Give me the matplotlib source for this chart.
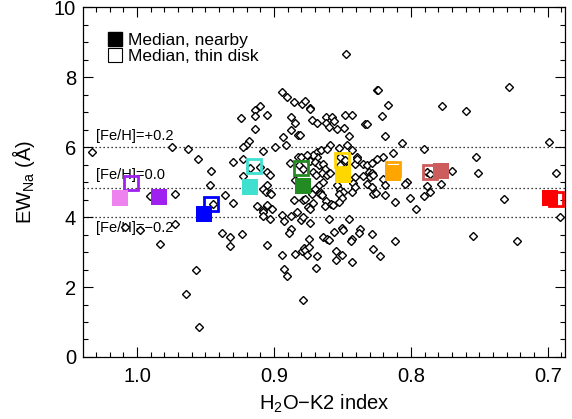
import numpy as np
import matplotlib
matplotlib.use('Agg')
import matplotlib.pyplot as plt
from matplotlib.lines import Line2D
from matplotlib.ticker import MultipleLocator, FormatStrFormatter

plt.rcParams['font.family'] = ['Liberation Sans', 'DejaVu Sans']
plt.rcParams['mathtext.fontset'] = 'custom'
plt.rcParams['mathtext.rm'] = 'Liberation Sans'
plt.rcParams['mathtext.it'] = 'Liberation Sans:italic'

# individual stars: H2O-K2 index vs Na equivalent width
h2o_k2 = [1.0329, 1.0085, 0.9981, 0.9908, 0.9835, 0.9745, 0.9720, 0.9720, 0.9642, 0.9628,
          0.9567, 0.9555, 0.9550, 0.9470, 0.9460, 0.9445, 0.9380, 0.9355, 0.9324, 0.9319,
          0.9295, 0.9295, 0.9234, 0.9241, 0.9137, 0.9100, 0.9137, 0.9051, 0.9137, 0.8942,
          0.8903, 0.8852, 0.8796, 0.8772, 0.8739, 0.8876, 0.8848, 0.8874, 0.8825, 0.8937,
          0.8910, 0.8990, 0.9080, 0.9185, 0.9202, 0.9222, 0.9222, 0.9178, 0.9100, 0.8825,
          0.8803, 0.8886, 0.8820, 0.8788, 0.9047, 0.9032, 0.9051, 0.9076, 0.9056, 0.9032,
          0.9222, 0.8845, 0.8808, 0.8784, 0.9022, 0.8735, 0.8723, 0.8686, 0.8618, 0.8578,
          0.8560, 0.8479, 0.8431, 0.8618, 0.8601, 0.8540, 0.8487, 0.8448, 0.8333, 0.8322,
          0.8808, 0.8589, 0.8521, 0.8467, 0.8431, 0.8394, 0.8682, 0.8657, 0.8686, 0.8711,
          0.8613, 0.8759, 0.8735, 0.8699, 0.8674, 0.8638, 0.8625, 0.8650, 0.8613, 0.8589,
          0.8711, 0.8691, 0.8516, 0.8492, 0.8516, 0.8479, 0.8406, 0.8390, 0.8346, 0.8321,
          0.8309, 0.8285, 0.8297, 0.8273, 0.8346, 0.8406, 0.8419, 0.8674, 0.8642, 0.8699,
          0.8662, 0.8540, 0.8516, 0.8492, 0.8406, 0.8321, 0.8285, 0.9124, 0.9080, 0.9076,
          0.9076, 0.9051, 0.9015, 0.9032, 0.8852, 0.8784, 0.8942, 0.8925, 0.8876, 0.8832,
          0.8803, 0.8788, 0.8876, 0.8893, 0.9051, 0.8942, 0.8845, 0.8796, 0.8779, 0.8925,
          0.8901, 0.8788, 0.8772, 0.8723, 0.8711, 0.8748, 0.8735, 0.8662, 0.8650, 0.8618,
          0.8625, 0.8584, 0.8569, 0.8528, 0.8503, 0.8528, 0.8426, 0.8273, 0.8735, 0.8594,
          0.8455, 0.8563, 0.8503, 0.8496, 0.8374, 0.8382, 0.8285, 0.8638, 0.8613, 0.8594,
          0.8431, 0.8438, 0.8740, 0.8772, 0.8759, 0.8740, 0.8682, 0.8545, 0.8503, 0.8545,
          0.8431, 0.8277, 0.8691, 0.8224, 0.8115, 0.7547, 0.7226, 0.8188, 0.8066, 0.7901,
          0.8127, 0.8200, 0.8248, 0.8285, 0.8029, 0.8042, 0.8200, 0.8188, 0.8254, 0.8188,
          0.8115, 0.8008, 0.7961, 0.7903, 0.7859, 0.7883, 0.7781, 0.7701, 0.7883, 0.7859,
          0.7525, 0.7506, 0.7317, 0.6988, 0.6941, 0.6910, 0.8472, 0.8248, 0.8242, 0.8168,
          0.8212, 0.7774, 0.7599, 0.7280]
ew_na = [5.86, 3.71, 3.62, 4.59, 3.24, 6.00, 4.65, 3.81, 1.81, 5.95,
         2.50, 5.67, 0.86, 4.91, 5.31, 4.38, 3.55, 4.64, 3.17, 3.43,
         5.57, 4.41, 3.52, 6.83, 7.05, 7.17, 6.88, 6.92, 6.52, 7.585,
         7.43, 7.29, 7.24, 7.33, 7.12, 6.86, 6.69, 6.50, 6.35, 6.30,
         6.07, 6.00, 5.90, 6.16, 6.07, 6.00, 5.65, 5.40, 5.43, 5.71,
         5.73, 5.55, 5.48, 5.38, 5.28, 5.19, 4.91, 4.81, 4.73, 4.70,
         5.17, 5.05, 5.00, 4.86, 4.65, 7.10, 6.78, 6.70, 6.86, 6.86,
         6.75, 6.93, 6.93, 6.69, 6.57, 6.53, 6.55, 6.33, 6.66, 6.65,
         6.35, 6.05, 5.97, 6.05, 5.91, 5.73, 5.86, 5.91, 5.71, 5.76,
         5.95, 5.76, 5.59, 5.57, 5.48, 5.52, 5.38, 5.27, 5.19, 5.27,
         5.30, 5.19, 5.71, 5.52, 5.48, 5.64, 5.52, 5.65, 5.52, 5.48,
         5.30, 5.27, 5.14, 5.19, 5.17, 5.14, 4.98, 4.91, 5.00, 4.81,
         4.73, 4.91, 4.76, 4.71, 4.86, 4.95, 4.86, 4.31, 4.21, 4.14,
         4.02, 4.33, 4.24, 3.95, 4.48, 4.50, 4.05, 3.90, 4.02, 4.14,
         3.92, 4.00, 3.67, 3.53, 3.21, 2.91, 2.93, 3.03, 3.12, 2.52,
         2.32, 1.62, 4.52, 4.67, 4.40, 4.28, 4.24, 4.67, 4.62, 4.46,
         4.31, 4.38, 4.33, 4.67, 4.53, 4.43, 4.72, 4.67, 3.83, 3.95,
         3.95, 3.57, 3.70, 3.64, 3.67, 3.54, 3.51, 3.43, 3.38, 3.33,
         3.38, 3.31, 3.38, 3.05, 2.91, 3.13, 2.88, 3.03, 2.91, 2.76,
         2.71, 3.10, 2.53, 2.89, 3.32, 3.46, 3.31, 6.33, 6.11, 5.95,
         5.83, 5.71, 5.67, 5.54, 5.00, 4.95, 5.10, 4.91, 4.69, 4.62,
         4.43, 4.55, 4.24, 4.59, 4.71, 4.88, 4.95, 5.31, 5.28, 5.24,
         5.71, 5.27, 4.51, 6.14, 5.26, 4.00, 8.67, 7.64, 7.63, 7.21,
         6.88, 7.18, 7.03, 7.73]

# binned medians
bin_colors = ['violet', '#A020F0', 'blue', 'turquoise', 'forestgreen',
              'gold', 'orange', 'indianred', 'red']
near_x = [1.0126, 0.9837, 0.9507, 0.9178, 0.8784, 0.8492, 0.8127, 0.7781, 0.6983]
near_y = [4.53, 4.58, 4.10, 4.86, 4.88, 5.20, 5.26, 5.31, 4.53]

thin_colors = ['#A020F0', 'blue', 'turquoise', 'forestgreen',
               'gold', 'orange', 'indianred', 'red']
thin_x = [1.0045, 0.9460, 0.9146, 0.8800, 0.8500, 0.8128, 0.7857, 0.6937]
thin_y = [4.96, 4.37, 5.45, 5.40, 5.63, 5.36, 5.28, 4.51]

# metallicity reference levels
feh_levels = [6.0, 4.82, 4.0]
feh_labels = ['[Fe/H]=+0.2', '[Fe/H]=0.0', '[Fe/H]=\u22120.2']
feh_label_y = [6.31, 5.19, 3.70]

fig = plt.figure(figsize=(5.72, 4.19), dpi=100)
ax = fig.add_axes([0.1451, 0.148, 0.8427, 0.835])

ax.plot(h2o_k2, ew_na, linestyle='none', marker='D', markersize=4.2,
        markerfacecolor='white', markeredgecolor='black', markeredgewidth=1.0,
        zorder=2)

for lev, lab, ly in zip(feh_levels, feh_labels, feh_label_y):
    ax.axhline(lev, color='black', linestyle=(0, (1, 2.2)), linewidth=0.9, zorder=1)
    ax.text(1.0297, ly, lab, fontsize=10.5, va='center', ha='left', zorder=1)

for x, y, c in zip(thin_x, thin_y, thin_colors):
    ax.plot(x, y, marker='s', markersize=10.5, markerfacecolor='none',
            markeredgecolor=c, markeredgewidth=2.0, zorder=3)
for x, y, c in zip(near_x, near_y, bin_colors):
    ax.plot(x, y, marker='s', markersize=12.2, markerfacecolor=c,
            markeredgewidth=0, zorder=4)

ax.set_xlim(1.0394, 0.6874)
ax.set_ylim(0, 10)
ax.xaxis.set_major_locator(MultipleLocator(0.1))
ax.xaxis.set_minor_locator(MultipleLocator(0.01))
ax.xaxis.set_major_formatter(FormatStrFormatter('%.1f'))
ax.yaxis.set_major_locator(MultipleLocator(2))
ax.yaxis.set_minor_locator(MultipleLocator(0.5))
ax.tick_params(which='both', direction='in', top=True, right=True,
               labelsize=14.5, width=0.8)
ax.tick_params(which='major', length=7, pad=7)
ax.tick_params(axis='y', which='major', pad=5)
ax.tick_params(which='minor', length=3.5)
for sp in ax.spines.values():
    sp.set_linewidth(0.9)

ax.set_xlabel('H$_2$O\u2212K2 index', fontsize=14.5, labelpad=5)
ax.set_ylabel('EW$_{\\rm Na}$ (\u00c5)', fontsize=14.5, labelpad=12)

handles = [
    Line2D([], [], linestyle='none', marker='s', markersize=9.5,
           markerfacecolor='black', markeredgecolor='black'),
    Line2D([], [], linestyle='none', marker='s', markersize=9.5,
           markerfacecolor='white', markeredgecolor='black', markeredgewidth=0.8),
]
ax.legend(handles, ['Median, nearby', 'Median, thin disk'], loc='upper left',
          bbox_to_anchor=(0.035, 0.95), frameon=False, fontsize=12.5,
          handlelength=0.8, handletextpad=0.3, labelspacing=0.0, borderpad=0)

fig.savefig('out.png', dpi=100)
